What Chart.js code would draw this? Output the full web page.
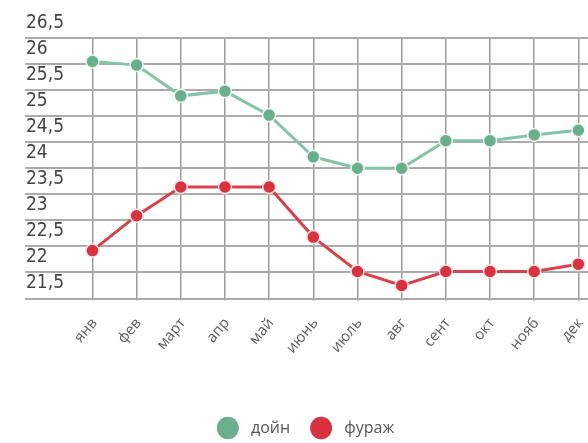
<!DOCTYPE html>
<html>
<head>
<meta charset="utf-8">
<script src="https://cdn.jsdelivr.net/npm/chart.js@4"></script>
<style>
html,body{margin:0;padding:0;background:#fff;}
#wrap{width:588px;height:443px;}
</style>
</head>
<body>
<div id="wrap"><canvas id="c" width="588" height="443"></canvas></div>
<script>
const months = ['янв','фев','март','апр','май','июнь','июль','авг','сент','окт','нояб','дек'];
const dairy = [26.05, 25.98, 25.39, 25.48, 25.02, 24.22, 24.0, 24.0, 24.53, 24.53, 24.64, 24.73];
const forage = [22.42, 23.09, 23.64, 23.64, 23.64, 22.68, 22.02, 21.75, 22.02, 22.02, 22.02, 22.16];
const yTicks = [21.5, 22, 22.5, 23, 23.5, 24, 24.5, 25, 25.5, 26, 26.5];
const seriesNames = ['дойн', 'фураж'];

const toPts = arr => arr.map((v, i) => ({x: i, y: v}));

new Chart(document.getElementById('c'), {
  type: 'line',
  data: {
    datasets: [
      {
        label: seriesNames[0],
        data: toPts(dairy),
        borderColor: '#85c3a6',
        backgroundColor: '#6aaf8d',
        pointBackgroundColor: '#6aaf8d',
        pointBorderColor: '#eef7f2',
        pointBorderWidth: 1.5,
        pointRadius: 6.5,
        borderWidth: 3,
        tension: 0,
        clip: false
      },
      {
        label: seriesNames[1],
        data: toPts(forage),
        borderColor: '#d7404c',
        backgroundColor: '#d8323f',
        pointBackgroundColor: '#d8323f',
        pointBorderColor: '#f7e3e4',
        pointBorderWidth: 1.5,
        pointRadius: 6.5,
        borderWidth: 3,
        tension: 0,
        clip: false
      }
    ]
  },
  options: {
    responsive: false,
    animation: false,
    devicePixelRatio: 1,
    layout: { autoPadding: false, padding: { left: 23, right: 0, top: 38, bottom: -3 } },
    scales: {
      x: {
        type: 'linear',
        min: -1.527,
        max: 11.218,
        afterBuildTicks: axis => { axis.ticks = months.map((m, i) => ({value: i})); },
        afterFit: axis => { axis.height += 29; axis.paddingRight = 0; axis.paddingLeft = 0; },
        grid: { color: '#9c9c9c', lineWidth: 1.5, drawTicks: true, tickLength: 2 },
        border: { display: false },
        ticks: {
          callback: (v) => months[v],
          autoSkip: false,
          minRotation: 50,
          maxRotation: 50,
          padding: 14,
          labelOffset: 2,
          color: '#5e5e5e',
          font: { family: "'Open Sans', 'Noto Sans', sans-serif", size: 15 }
        }
      },
      y: {
        min: 21.5,
        max: 26.5,
        afterBuildTicks: axis => { axis.ticks = yTicks.map(v => ({value: v})); },
        afterFit: axis => { axis.paddingTop = 0; axis.paddingBottom = 0; },
        grid: { color: '#ababab', lineWidth: 2, drawTicks: false },
        border: { display: false },
        ticks: {
          autoSkip: false,
          mirror: true,
          padding: 1,
          labelOffset: -15,
          color: '#454545',
          callback: v => String(v).replace('.', ','),
          font: { family: "'Liberation Sans Narrow', 'DejaVu Sans Condensed', sans-serif", size: 19 }
        }
      }
    },
    plugins: {
      tooltip: { enabled: false },
      legend: {
        position: 'bottom',
        labels: {
          usePointStyle: true,
          pointStyle: 'circle',
          pointStyleWidth: 22,
          boxHeight: 16,
          padding: 20,
          color: '#555',
          font: { family: "'Open Sans', 'Noto Sans', sans-serif", size: 16 },
          generateLabels: chart => chart.data.datasets.map((ds, i) => ({
            text: ' ' + ds.label,
            fillStyle: ds.backgroundColor,
            strokeStyle: ds.backgroundColor,
            lineWidth: 0,
            pointStyle: 'circle',
            datasetIndex: i,
            hidden: false,
            fontColor: '#555'
          }))
        }
      }
    }
  }
});
</script>
</body>
</html>
